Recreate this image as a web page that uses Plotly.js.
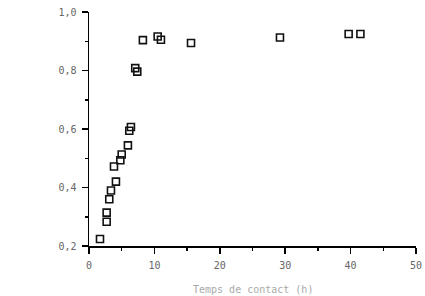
<!DOCTYPE html>
<html>
<head>
<meta charset="utf-8">
<script src="https://cdn.plot.ly/plotly-3.0.1.min.js"></script>
<style>html,body{margin:0;padding:0;background:#fff;}#chart{width:425px;height:296px;}</style>
</head>
<body>
<div id="chart"></div>
<script>
const xValues = [1.68, 2.7, 2.7, 3.1, 3.36, 4.12, 3.82, 4.79, 5.0, 5.95, 6.16, 6.41, 7.07, 7.38, 8.24, 10.5, 11.0, 15.6, 29.2, 39.7, 41.5];
const yValues = [0.224, 0.283, 0.314, 0.36, 0.39, 0.42, 0.472, 0.493, 0.513, 0.544, 0.594, 0.607, 0.808, 0.796, 0.904, 0.916, 0.905, 0.894, 0.913, 0.925, 0.925];
const xTickVals = [0, 10, 20, 30, 40, 50];
const xTickText = ["0", "10", "20", "30", "40", "50"];
const yTickVals = [0.2, 0.4, 0.6, 0.8, 1.0];
const yTickText = ["0,2", "0,4", "0,6", "0,8", "1,0"];
const xTitle = "Temps de contact (h)";

const tickFont = {family: "DejaVu Sans Mono", size: 10, color: "#666"};

Plotly.newPlot("chart", [{
  x: xValues, y: yValues, type: "scatter", mode: "markers",
  marker: {symbol: "square-open", size: 7, color: "#111", line: {width: 1.6, color: "#111"}},
  hoverinfo: "none"
}], {
  width: 425, height: 296,
  margin: {l: 89, r: 9, t: 12, b: 50},
  paper_bgcolor: "#fff", plot_bgcolor: "#fff",
  showlegend: false,
  xaxis: {
    range: [0, 50], showgrid: false, zeroline: false,
    showline: true, linecolor: "#000", linewidth: 1.5,
    ticks: "outside", ticklen: 6, tickwidth: 1.5, tickcolor: "#000",
    ticklabelstandoff: 3,
    tickvals: xTickVals, ticktext: xTickText, tickfont: tickFont,
    minor: {dtick: 5, tick0: 0, ticks: "outside", ticklen: 3, tickwidth: 1.5, tickcolor: "#000", showgrid: false}
  },
  yaxis: {
    range: [0.2, 1.0], showgrid: false, zeroline: false,
    showline: true, linecolor: "#000", linewidth: 1.5,
    ticks: "outside", ticklen: 6, tickwidth: 1.5, tickcolor: "#000",
    ticklabelstandoff: 3,
    tickvals: yTickVals, ticktext: yTickText, tickfont: tickFont,
    minor: {dtick: 0.1, tick0: 0.2, ticks: "outside", ticklen: 3, tickwidth: 1.5, tickcolor: "#000", showgrid: false}
  },
  annotations: [{
    text: xTitle, xref: "paper", yref: "paper", x: 0.5, y: -0.155,
    xanchor: "center", yanchor: "top", showarrow: false,
    font: {family: "DejaVu Sans Mono", size: 10, color: "#aaa"}
  }]
}, {displayModeBar: false, staticPlot: true});
</script>
</body>
</html>
